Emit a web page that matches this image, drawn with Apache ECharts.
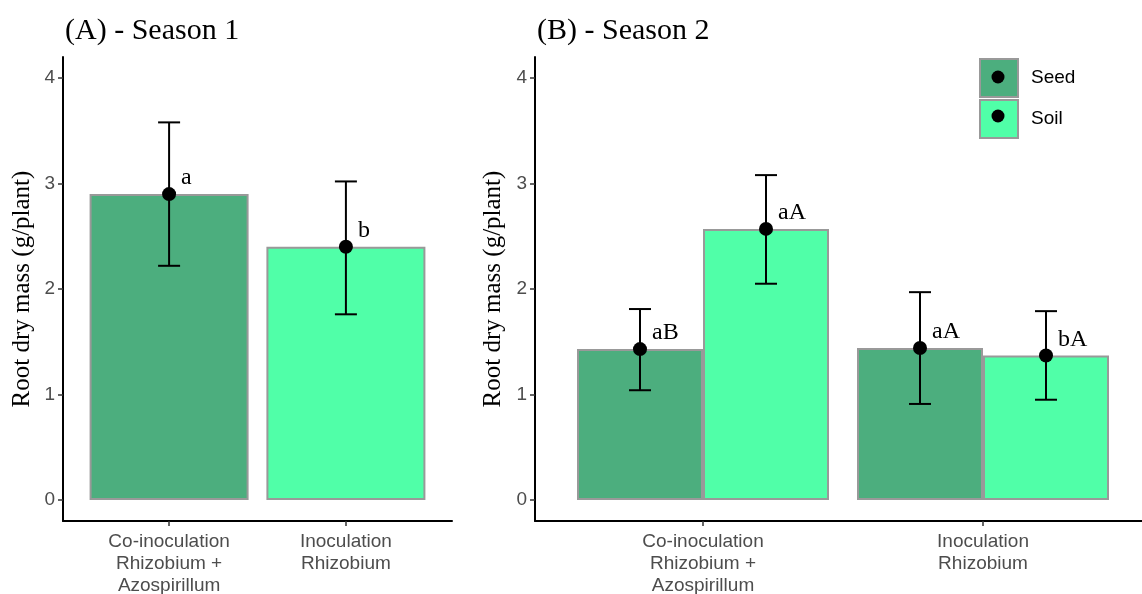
<!DOCTYPE html>
<html>
<head>
<meta charset="utf-8">
<script src="https://cdn.jsdelivr.net/npm/echarts@6/dist/echarts.min.js"></script>
<style>
  html, body { margin: 0; padding: 0; background: #fff; }
  #main { width: 1142px; height: 594px; }
</style>
</head>
<body>
<div id="main"></div>
<script>
var categories = ['Co-inoculation\nRhizobium +\nAzospirillum', 'Inoculation\nRhizobium'];
var yTicks = [0, 1, 2, 3, 4];
var groups = ['Seed', 'Soil'];
var colors = ['#4cae7e', '#50ffa8'];

// Season 1: one bar per treatment
var s1Mean = [2.90, 2.40];
var s1Low = [2.22, 1.76];
var s1High = [3.58, 3.02];
var s1Letters = ['a', 'b'];

// Season 2: Seed / Soil per treatment
var s2SeedMean = [1.43, 1.44];
var s2SeedLow = [1.04, 0.91];
var s2SeedHigh = [1.81, 1.97];
var s2SeedLetters = ['aB', 'aA'];
var s2SoilMean = [2.57, 1.37];
var s2SoilLow = [2.05, 0.95];
var s2SoilHigh = [3.08, 1.79];
var s2SoilLetters = ['aA', 'bA'];

var dodge = 0.225;
var serif = '"Liberation Serif", "Times New Roman", serif';
var sans = '"Liberation Sans", Arial, sans-serif';

var myChart = echarts.init(document.getElementById('main'));

function errorItems(xs, mean, low, high) {
  return xs.map(function (x, i) { return [x, mean[i], low[i], high[i]]; });
}

function makeRender(letters) {
  return function (params, api) {
    var x = api.value(0);
    var pm = api.coord([x, api.value(1)]);
    var pl = api.coord([x, api.value(2)]);
    var ph = api.coord([x, api.value(3)]);
    var w = 11;
    return {
      type: 'group',
      children: [
        { type: 'line', shape: { x1: pl[0], y1: pl[1], x2: ph[0], y2: ph[1] }, style: { stroke: '#000', lineWidth: 2 } },
        { type: 'line', shape: { x1: pl[0] - w, y1: pl[1], x2: pl[0] + w, y2: pl[1] }, style: { stroke: '#000', lineWidth: 2 } },
        { type: 'line', shape: { x1: ph[0] - w, y1: ph[1], x2: ph[0] + w, y2: ph[1] }, style: { stroke: '#000', lineWidth: 2 } },
        { type: 'circle', shape: { cx: pm[0], cy: pm[1], r: 7 }, style: { fill: '#000' } },
        { type: 'text', style: { text: letters[params.dataIndex], x: pm[0] + 12, y: pm[1] - 16,
            font: '24px ' + serif, fill: '#000', verticalAlign: 'middle', align: 'left' } }
      ]
    };
  };
}

function xAxisCfg(idx, max) {
  return {
    type: 'value', gridIndex: idx, min: 0.4, max: max,
    axisLine: { show: true, onZero: false, lineStyle: { color: '#000', width: 2 } },
    axisTick: { show: true, length: 5, customValues: [1, 2], lineStyle: { color: '#333', width: 1.5 } },
    axisLabel: {
      customValues: [1, 2], margin: 10, color: '#4d4d4d', fontSize: 19, lineHeight: 22,
      fontFamily: sans,
      formatter: function (v) { return categories[Math.round(v) - 1]; }
    },
    splitLine: { show: false }
  };
}

function yAxisCfg(idx) {
  return {
    type: 'value', gridIndex: idx, min: -0.2, max: 4.2,
    name: 'Root dry mass (g/plant)', nameLocation: 'middle', nameGap: 28,
    nameTextStyle: { fontSize: 25, color: '#000', fontFamily: serif },
    axisLine: { show: true, onZero: false, lineStyle: { color: '#000', width: 2 } },
    axisTick: { show: true, length: 5, customValues: yTicks, lineStyle: { color: '#333', width: 1.5 } },
    axisLabel: { customValues: yTicks, margin: 8, color: '#4d4d4d', fontSize: 19, fontFamily: sans },
    splitLine: { show: false }
  };
}

var barBorder = { borderColor: '#999', borderWidth: 2 };

var option = {
  animation: false,
  backgroundColor: '#fff',
  title: [
    { text: '(A) - Season 1', left: 60, top: 11,
      textStyle: { fontSize: 30, fontWeight: 'normal', color: '#000', fontFamily: serif } },
    { text: '(B) - Season 2', left: 532, top: 11,
      textStyle: { fontSize: 30, fontWeight: 'normal', color: '#000', fontFamily: serif } }
  ],
  legend: {
    data: groups, orient: 'vertical', left: 979, top: 58, padding: 0,
    icon: 'rect', itemWidth: 38, itemHeight: 38, itemGap: 1,
    itemStyle: { borderColor: '#999', borderWidth: 2 },
    textStyle: { fontSize: 19, color: '#000', fontFamily: sans, padding: [0, 0, 0, 8] },
    selectedMode: false
  },
  grid: [
    { left: 63, top: 57, width: 389, height: 464, outerBoundsMode: 'none', containLabel: false },
    { left: 535, top: 57, width: 607, height: 464, outerBoundsMode: 'none', containLabel: false }
  ],
  xAxis: [xAxisCfg(0, 2.6), xAxisCfg(1, 0.4 + 607 / 280)],
  yAxis: [yAxisCfg(0), yAxisCfg(1)],
  graphic: [
    { type: 'circle', shape: { cx: 998, cy: 77, r: 6.5 }, style: { fill: '#000' }, z: 100 },
    { type: 'circle', shape: { cx: 998, cy: 116, r: 6.5 }, style: { fill: '#000' }, z: 100 }
  ],
  series: [
    {
      name: 'Season 1', type: 'bar', xAxisIndex: 0, yAxisIndex: 0, barWidth: 159,
      data: s1Mean.map(function (v, i) {
        return { value: [i + 1, v], itemStyle: { color: colors[i], borderColor: '#999', borderWidth: 2 } };
      })
    },
    {
      name: 'Season 1 error', type: 'custom', xAxisIndex: 0, yAxisIndex: 0, z: 10,
      renderItem: makeRender(s1Letters),
      data: errorItems([1, 2], s1Mean, s1Low, s1High)
    },
    {
      name: 'Seed', type: 'bar', xAxisIndex: 1, yAxisIndex: 1, barWidth: 126, barGap: '-100%',
      itemStyle: Object.assign({ color: colors[0] }, barBorder),
      data: s2SeedMean.map(function (v, i) { return [i + 1 - dodge, v]; })
    },
    {
      name: 'Soil', type: 'bar', xAxisIndex: 1, yAxisIndex: 1, barWidth: 126, barGap: '-100%',
      itemStyle: Object.assign({ color: colors[1] }, barBorder),
      data: s2SoilMean.map(function (v, i) { return [i + 1 + dodge, v]; })
    },
    {
      name: 'Seed error', type: 'custom', xAxisIndex: 1, yAxisIndex: 1, z: 10,
      renderItem: makeRender(s2SeedLetters),
      data: errorItems([1 - dodge, 2 - dodge], s2SeedMean, s2SeedLow, s2SeedHigh)
    },
    {
      name: 'Soil error', type: 'custom', xAxisIndex: 1, yAxisIndex: 1, z: 10,
      renderItem: makeRender(s2SoilLetters),
      data: errorItems([1 + dodge, 2 + dodge], s2SoilMean, s2SoilLow, s2SoilHigh)
    }
  ]
};

myChart.setOption(option);
</script>
</body>
</html>
